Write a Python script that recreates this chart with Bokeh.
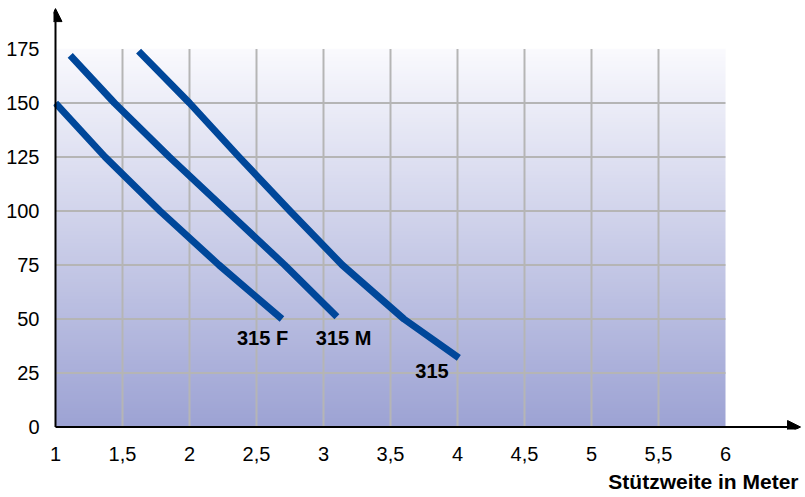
import numpy as np
from bokeh.plotting import figure
from bokeh.models import Arrow, NormalHead, Title, FixedTicker
from bokeh.core.properties import value
from bokeh.embed import file_html
from bokeh.resources import INLINE

# ---- data ----
x_ticks = [1, 1.5, 2, 2.5, 3, 3.5, 4, 4.5, 5, 5.5, 6]
x_tick_labels = ["1", "1,5", "2", "2,5", "3", "3,5", "4", "4,5", "5", "5,5", "6"]
y_ticks = [0, 25, 50, 75, 100, 125, 150, 175]

grid_x = [1.5, 2, 2.5, 3, 3.5, 4, 4.5, 5, 5.5]
grid_y = [25, 50, 75, 100, 125, 150]

f_x = [1.0, 1.37, 1.78, 2.22, 2.69]
f_y = [150, 125, 100, 75, 50]
m_x = [1.11, 1.44, 1.85, 2.28, 2.71, 3.10]
m_y = [172, 150, 125, 100, 75, 51]
s_x = [1.62, 2.0, 2.37, 2.75, 3.14, 3.6, 4.01]
s_y = [174, 150, 125, 100, 75, 50, 32]

label_x = [2.545, 3.15, 3.81]
label_y = [41, 41, 26]
label_text = ["315 F", "315 M", "315"]

x_title = "Stützweite in Meter"

FONT = "Liberation Sans"
BLUE = "#00479a"

p = figure(width=805, height=497, output_backend="svg", toolbar_location=None,
           x_range=(0.98507, 6.597), y_range=(-1.157, 197.45),
           min_border_left=53, min_border_right=0, min_border_top=0,
           min_border_bottom=68)
p.outline_line_color = None
p.grid.visible = False
p.background_fill_color = "white"
p.border_fill_color = "white"

# gradient background over the data area
n = 200
top = np.array([250, 250, 254])
bot = np.array([157, 163, 212])
t = np.linspace(0, 1, n)[:, None]
cols = (bot * (1 - t) + top * t).astype(np.uint32)
img = np.zeros((n, 2), dtype=np.uint32)
view = img.view(dtype=np.uint8).reshape((n, 2, 4))
view[:, :, 0] = cols[:, 0:1]
view[:, :, 1] = cols[:, 1:2]
view[:, :, 2] = cols[:, 2:3]
view[:, :, 3] = 255
p.image_rgba(image=[img], x=x_ticks[0], y=y_ticks[0],
             dw=x_ticks[-1] - x_ticks[0], dh=y_ticks[-1] - y_ticks[0])

# grid
p.segment(x0=grid_x, y0=[y_ticks[0]] * len(grid_x), x1=grid_x,
          y1=[y_ticks[-1]] * len(grid_x), line_color="#b5b5b5", line_width=2)
p.segment(x0=[x_ticks[0]] * len(grid_y), y0=grid_y,
          x1=[x_ticks[-1]] * len(grid_y), y1=grid_y,
          line_color="#b5b5b5", line_width=2)

# curves
for xs, ys in [(f_x, f_y), (m_x, m_y), (s_x, s_y)]:
    p.line(xs, ys, line_color=BLUE, line_width=7, line_join="round")

p.text(x=label_x, y=label_y, text=label_text, text_font=value(FONT),
       text_font_size="20px", text_font_style="bold", text_color="black",
       text_align="center", text_baseline="middle")

# axes arrows
p.add_layout(Arrow(x_start=1, y_start=0, x_end=1, y_end=193.7,
                   line_color="black", line_width=2,
                   end=NormalHead(size=13, fill_color="black", line_color="black")))
p.add_layout(Arrow(x_start=1, y_start=0, x_end=6.56, y_end=0,
                   line_color="black", line_width=2,
                   end=NormalHead(size=13, fill_color="black", line_color="black")))

# tick labels
p.xaxis.ticker = FixedTicker(ticks=x_ticks)
p.xaxis.major_label_overrides = {t_: l for t_, l in zip(x_ticks, x_tick_labels)}
p.yaxis.ticker = FixedTicker(ticks=y_ticks)
for ax in (p.xaxis, p.yaxis):
    ax.axis_line_color = None
    ax.major_tick_line_color = None
    ax.minor_tick_line_color = None
    ax.major_label_text_font = FONT
    ax.major_label_text_font_size = "20px"
    ax.major_label_text_color = "black"
p.xaxis.major_label_standoff = 11
p.yaxis.major_label_standoff = 8

p.add_layout(Title(text=x_title, align="right", offset=7, standoff=9,
                   text_font=FONT, text_font_size="21px",
                   text_font_style="bold", text_color="black"), "below")

open("out.html", "w").write(file_html(p, INLINE))
